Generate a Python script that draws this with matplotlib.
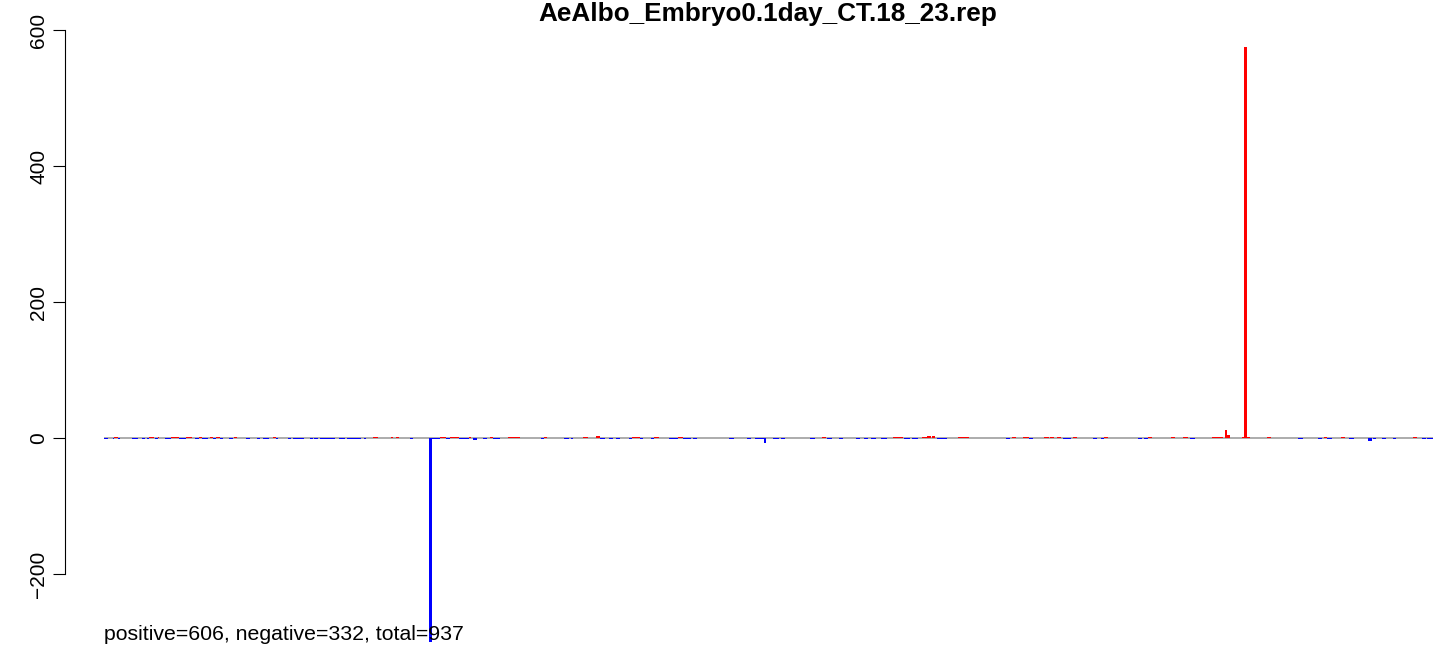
import numpy as np
import matplotlib
matplotlib.use("Agg")
import matplotlib.pyplot as plt

plt.rcParams['font.family'] = ['Liberation Sans', 'DejaVu Sans']

title = "AeAlbo_Embryo0.1day_CT.18_23.rep"
n_total = 937
n_pos = 606
n_neg = 332

# runs of equal values: first index, last index, value
run_start = [0, 6, 7, 10, 20, 27, 30, 32, 36, 38, 43, 47, 51, 53, 56, 58, 64, 67, 69, 75,
             77, 79, 82, 88, 92, 100, 108, 112, 119, 121, 130, 133, 145, 148, 152, 166, 171, 178, 183, 190,
             202, 206, 216, 229, 231, 237, 241, 244, 250, 257, 260, 267, 272, 274, 285, 308, 310, 324, 329, 338,
             347, 350, 356, 361, 370, 372, 378, 386, 388, 398, 405, 408, 415, 441, 453, 459, 465, 472, 477, 498,
             506, 510, 518, 530, 536, 541, 548, 556, 564, 570, 577, 580, 584, 587, 602, 606, 636, 640, 648, 652,
             663, 667, 672, 676, 679, 683, 697, 703, 705, 729, 733, 736, 752, 761, 766, 781, 790, 792, 802, 804,
             806, 820, 842, 856, 860, 862, 872, 878, 891, 895, 901, 909, 923, 929, 933]
run_end = [2, 6, 9, 10, 23, 28, 31, 34, 37, 38, 46, 50, 52, 55, 57, 61, 66, 68, 72, 76,
           78, 81, 83, 90, 93, 102, 109, 115, 120, 122, 131, 140, 146, 150, 162, 169, 177, 180, 184, 192,
           203, 207, 217, 230, 236, 240, 243, 249, 256, 258, 262, 269, 273, 278, 292, 309, 311, 327, 330, 340,
           349, 352, 358, 363, 371, 377, 379, 387, 390, 404, 407, 413, 417, 443, 455, 464, 466, 475, 479, 500,
           508, 512, 520, 532, 538, 543, 551, 562, 567, 573, 579, 582, 585, 593, 605, 609, 638, 642, 651, 654,
           665, 669, 674, 678, 681, 685, 699, 704, 707, 731, 735, 738, 754, 763, 768, 788, 791, 793, 803, 805,
           807, 822, 844, 858, 861, 865, 874, 880, 893, 896, 903, 910, 925, 931, 936]
run_val = [-1, -1, 2, -1, -1, -1, -1, 2, -1, 1, -1, 1, 2, -1, -1, 1, -1, 2, -1, 1,
           -1, 1, -1, -1, 2, -1, -1, -1, 1, -1, -1, -1, -1, -1, -1, -1, -1, -1, -1, 1,
           1, 1, -1, -300, -1, 1, -1, 1, -1, 2, -3, -1, 1, -1, 1, -1, 1, -1, -1, 1,
           3, -1, -1, -1, -1, 1, -1, -1, 1, -1, 1, -1, -1, -1, -1, -1, -8, -1, -1, -1,
           1, -1, -1, -1, -1, -1, -1, 1, -1, -1, 1, 3, 3, -1, 1, 1, -1, 1, 2, -1,
           1, 1, 1, -1, -1, 1, -1, -1, 1, -1, -1, 1, 1, 1, -1, 1, 12, 5, 1, 575,
           1, 1, -1, -1, 1, -1, 1, -1, -5, -1, -1, -1, 1, -1, -1]

values = np.zeros(n_total)
for s, e, v in zip(run_start, run_end, run_val):
    values[s:e + 1] = v
idx = np.arange(n_total)
colors = np.where(values > 0, '#FF0000', '#0000FF')

W, H = 1433, 649
fig = plt.figure(figsize=(W / 100, H / 100), dpi=100)
ax = fig.add_axes([65 / W, 0, 1 - 65 / W, 1])

# baseline under the bars
ax.plot([-0.5, n_total - 0.5], [0, 0], color='#A6A6A6', lw=1.3, zorder=1, solid_capstyle='butt')
ax.bar(idx, values, width=1.0, color=colors, linewidth=0, zorder=2)

ax.set_xlim(-28.0, n_total - 0.5)
ax.set_ylim(-(H - 438) / 0.68, 438 / 0.68)

for s in ['top', 'right', 'bottom']:
    ax.spines[s].set_visible(False)
ax.spines['left'].set_bounds(-200, 600)
ax.spines['left'].set_linewidth(0.8)
ax.set_xticks([])
ax.set_yticks([-200, 0, 200, 400, 600])
ax.set_yticklabels(['\u2212200', '0', '200', '400', '600'], rotation=90, va='center')
ax.tick_params(axis='y', length=9, width=0.8, pad=3, labelsize=15)

fig.text(768 / W, 1 - 14 / H, title, ha='center', va='center', fontsize=18.8, fontweight='bold')
fig.text(104 / W, 1 - 634 / H, f"positive={n_pos}, negative={n_neg}, total={n_total}",
         ha='left', va='center', fontsize=15.3)

fig.savefig('out.png', dpi=100)
